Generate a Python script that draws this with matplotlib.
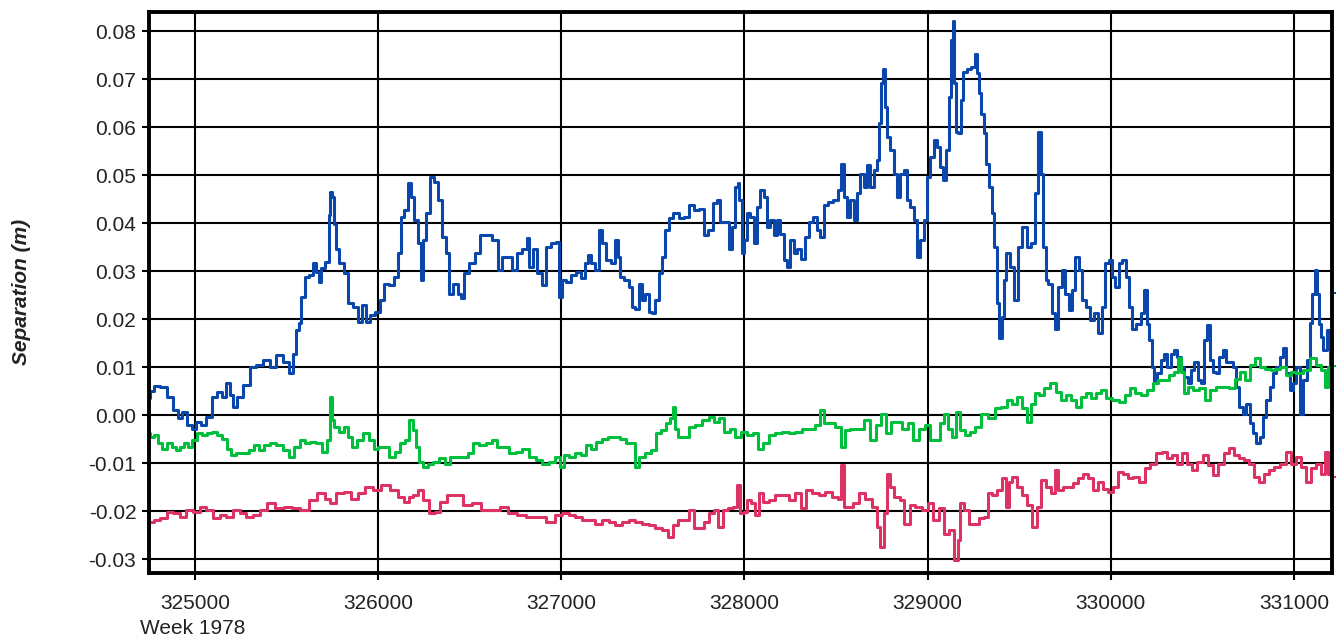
import matplotlib
matplotlib.use("Agg")
import matplotlib.pyplot as plt

plt.rcParams['font.family'] = ['Liberation Sans', 'DejaVu Sans']
plt.rcParams['axes.unicode_minus'] = False

# time (seconds of GPS week 1978) and separation (m) for the three components
blue_x = [324752, 324764, 324791, 324828, 324864, 324900, 324918, 324946, 324973, 324991,
          325018, 325045, 325082, 325109, 325136, 325163, 325182, 325200, 325218, 325245,
          325281, 325318, 325354, 325390, 325427, 325463, 325499, 325526, 325545, 325563,
          325572, 325590, 325608, 325635, 325653, 325672, 325681, 325699, 325726, 325735,
          325744, 325753, 325762, 325780, 325799, 325826, 325844, 325880, 325898, 325926,
          325944, 325971, 325998, 326025, 326044, 326080, 326098, 326116, 326134, 326153,
          326171, 326189, 326207, 326225, 326240, 326252, 326271, 326298, 326316, 326334,
          326361, 326379, 326398, 326425, 326443, 326461, 326479, 326516, 326543, 326570,
          326606, 326643, 326670, 326688, 326715, 326742, 326770, 326806, 326815, 326833,
          326860, 326879, 326906, 326931, 326958, 326985, 326995, 327013, 327040, 327067,
          327095, 327122, 327140, 327149, 327177, 327195, 327213, 327231, 327258, 327286,
          327304, 327313, 327331, 327359, 327377, 327395, 327413, 327431, 327450, 327468,
          327486, 327504, 327522, 327541, 327559, 327577, 327595, 327622, 327659, 327686,
          327713, 327741, 327768, 327786, 327814, 327841, 327859, 327877, 327905, 327923,
          327941, 327959, 327968, 327977, 327992, 328005, 328023, 328041, 328059, 328077,
          328096, 328114, 328132, 328150, 328168, 328187, 328205, 328223, 328241, 328259,
          328278, 328296, 328323, 328341, 328360, 328387, 328405, 328423, 328441, 328469,
          328496, 328523, 328536, 328551, 328569, 328587, 328605, 328623, 328642, 328660,
          328678, 328696, 328714, 328729, 328736, 328751, 328760, 328773, 328784, 328805,
          328824, 328838, 328860, 328878, 328896, 328915, 328933, 328951, 328969, 328987,
          329002, 329024, 329042, 329060, 329073, 329092, 329110, 329125, 329132, 329143,
          329150, 329161, 329174, 329187, 329201, 329229, 329247, 329265, 329275, 329284,
          329302, 329311, 329326, 329348, 329357, 329370, 329384, 329399, 329412, 329421,
          329439, 329458, 329485, 329503, 329531, 329549, 329577, 329595, 329613, 329626,
          329637, 329650, 329668, 329686, 329705, 329723, 329741, 329760, 329778, 329796,
          329814, 329833, 329851, 329879, 329897, 329915, 329943, 329961, 329979, 329997,
          330016, 330034, 330052, 330071, 330089, 330107, 330126, 330153, 330171, 330190,
          330204, 330217, 330230, 330245, 330263, 330281, 330299, 330318, 330336, 330354,
          330373, 330391, 330409, 330428, 330446, 330464, 330482, 330501, 330519, 330534,
          330546, 330565, 330583, 330601, 330620, 330638, 330656, 330675, 330693, 330711,
          330729, 330748, 330766, 330784, 330803, 330821, 330839, 330858, 330876, 330894,
          330912, 330931, 330949, 330967, 330986, 331004, 331022, 331041, 331059, 331077,
          331095, 331105, 331119, 331132, 331141, 331150, 331169, 331187, 331205]
blue_y = [0.0035, 0.0050, 0.0061, 0.0058, 0.0038, 0.0010, -0.0007, 0.0007, -0.0020, -0.0028,
          -0.0014, -0.0020, -0.0003, 0.0038, 0.0049, 0.0038, 0.0066, 0.0042, 0.0017, 0.0038,
          0.0063, 0.0101, 0.0104, 0.0115, 0.0101, 0.0125, 0.0111, 0.0087, 0.0128, 0.0177,
          0.0191, 0.0247, 0.0288, 0.0292, 0.0316, 0.0299, 0.0278, 0.0306, 0.0319, 0.0417,
          0.0465, 0.0455, 0.0399, 0.0347, 0.0316, 0.0295, 0.0233, 0.0226, 0.0194, 0.0229,
          0.0194, 0.0208, 0.0215, 0.0240, 0.0274, 0.0271, 0.0288, 0.0337, 0.0413, 0.0427,
          0.0483, 0.0455, 0.0406, 0.0358, 0.0281, 0.0365, 0.0420, 0.0497, 0.0486, 0.0448,
          0.0372, 0.0337, 0.0253, 0.0274, 0.0253, 0.0243, 0.0295, 0.0316, 0.0337, 0.0375,
          0.0375, 0.0365, 0.0302, 0.0330, 0.0330, 0.0302, 0.0337, 0.0347, 0.0368, 0.0309,
          0.0347, 0.0295, 0.0271, 0.0351, 0.0358, 0.0361, 0.0247, 0.0281, 0.0278, 0.0292,
          0.0299, 0.0285, 0.0316, 0.0333, 0.0316, 0.0302, 0.0385, 0.0358, 0.0323, 0.0316,
          0.0365, 0.0330, 0.0288, 0.0281, 0.0267, 0.0226, 0.0222, 0.0274, 0.0240, 0.0253,
          0.0215, 0.0212, 0.0240, 0.0295, 0.0330, 0.0385, 0.0410, 0.0420, 0.0410, 0.0413,
          0.0437, 0.0427, 0.0430, 0.0375, 0.0385, 0.0441, 0.0448, 0.0403, 0.0403, 0.0347,
          0.0392, 0.0476, 0.0483, 0.0448, 0.0337, 0.0365, 0.0420, 0.0413, 0.0358, 0.0434,
          0.0469, 0.0455, 0.0392, 0.0406, 0.0375, 0.0406, 0.0378, 0.0323, 0.0309, 0.0365,
          0.0337, 0.0347, 0.0326, 0.0372, 0.0403, 0.0413, 0.0385, 0.0372, 0.0437, 0.0444,
          0.0448, 0.0469, 0.0524, 0.0455, 0.0413, 0.0448, 0.0406, 0.0462, 0.0503, 0.0476,
          0.0521, 0.0476, 0.0510, 0.0531, 0.0608, 0.0691, 0.0722, 0.0642, 0.0580, 0.0552,
          0.0503, 0.0455, 0.0503, 0.0510, 0.0448, 0.0434, 0.0406, 0.0330, 0.0365, 0.0406,
          0.0497, 0.0538, 0.0573, 0.0559, 0.0517, 0.0490, 0.0552, 0.0663, 0.0781, 0.0820,
          0.0691, 0.0590, 0.0587, 0.0656, 0.0715, 0.0722, 0.0726, 0.0753, 0.0712, 0.0670,
          0.0628, 0.0587, 0.0524, 0.0476, 0.0420, 0.0351, 0.0233, 0.0160, 0.0205, 0.0281,
          0.0337, 0.0309, 0.0240, 0.0351, 0.0392, 0.0351, 0.0358, 0.0462, 0.0590, 0.0503,
          0.0351, 0.0281, 0.0274, 0.0212, 0.0180, 0.0267, 0.0302, 0.0253, 0.0219, 0.0260,
          0.0330, 0.0302, 0.0240, 0.0226, 0.0198, 0.0212, 0.0170, 0.0226, 0.0316, 0.0323,
          0.0288, 0.0267, 0.0316, 0.0323, 0.0288, 0.0226, 0.0180, 0.0190, 0.0212, 0.0260,
          0.0190, 0.0156, 0.0101, 0.0066, 0.0087, 0.0115, 0.0128, 0.0101, 0.0128, 0.0135,
          0.0122, 0.0101, 0.0080, 0.0066, 0.0094, 0.0111, 0.0073, 0.0066, 0.0156, 0.0188,
          0.0115, 0.0090, 0.0087, 0.0122, 0.0135, 0.0111, 0.0111, 0.0101, 0.0059, 0.0017,
          0.0003, 0.0024, -0.0017, -0.0038, -0.0059, -0.0045, -0.0003, 0.0031, 0.0059, 0.0087,
          0.0101, 0.0122, 0.0139, 0.0087, 0.0052, 0.0066, 0.0101, 0.0003, 0.0073, 0.0115,
          0.0191, 0.0253, 0.0302, 0.0253, 0.0190, 0.0163, 0.0135, 0.0177, 0.0101]

green_x = [324750, 324764, 324791, 324809, 324837, 324864, 324882, 324909, 324927, 324955,
           324973, 325000, 325027, 325054, 325082, 325109, 325136, 325163, 325191, 325209,
           325245, 325281, 325309, 325336, 325363, 325390, 325427, 325463, 325499, 325526,
           325554, 325590, 325617, 325644, 325681, 325708, 325731, 325744, 325753, 325771,
           325799, 325826, 325844, 325871, 325898, 325935, 325962, 325989, 326016, 326044,
           326080, 326107, 326134, 326162, 326180, 326198, 326216, 326234, 326261, 326289,
           326316, 326352, 326379, 326407, 326443, 326479, 326506, 326534, 326570, 326606,
           326634, 326661, 326697, 326733, 326770, 326806, 326842, 326879, 326913, 326949,
           326985, 327004, 327031, 327058, 327095, 327122, 327149, 327177, 327204, 327240,
           327268, 327304, 327340, 327368, 327395, 327413, 327440, 327477, 327504, 327531,
           327559, 327586, 327604, 327613, 327626, 327650, 327686, 327713, 327750, 327786,
           327823, 327850, 327877, 327905, 327932, 327968, 327996, 328032, 328059, 328087,
           328114, 328150, 328187, 328223, 328259, 328296, 328332, 328369, 328405, 328423,
           328441, 328478, 328514, 328536, 328560, 328596, 328633, 328669, 328705, 328733,
           328760, 328787, 328815, 328842, 328878, 328906, 328933, 328969, 328997, 329024,
           329055, 329082, 329101, 329119, 329147, 329165, 329192, 329220, 329247, 329275,
           329311, 329348, 329384, 329421, 329448, 329476, 329503, 329531, 329549, 329577,
           329595, 329622, 329650, 329686, 329714, 329741, 329769, 329796, 329824, 329851,
           329879, 329906, 329933, 329961, 329988, 330025, 330062, 330089, 330116, 330144,
           330180, 330217, 330245, 330272, 330299, 330336, 330358, 330373, 330391, 330409,
           330437, 330464, 330501, 330528, 330556, 330592, 330629, 330665, 330693, 330720,
           330748, 330775, 330803, 330830, 330858, 330885, 330912, 330940, 330967, 330995,
           331031, 331068, 331105, 331132, 331160, 331178, 331196]
green_y = [-0.0038, -0.0045, -0.0042, -0.0059, -0.0070, -0.0059, -0.0066, -0.0073, -0.0066, -0.0059,
           -0.0066, -0.0052, -0.0038, -0.0042, -0.0038, -0.0035, -0.0042, -0.0049, -0.0070, -0.0083,
           -0.0080, -0.0080, -0.0073, -0.0063, -0.0073, -0.0063, -0.0059, -0.0063, -0.0073, -0.0087,
           -0.0066, -0.0052, -0.0059, -0.0056, -0.0059, -0.0076, -0.0052, 0.0038, -0.0010, -0.0024,
           -0.0035, -0.0024, -0.0045, -0.0066, -0.0052, -0.0038, -0.0052, -0.0070, -0.0066, -0.0066,
           -0.0087, -0.0076, -0.0059, -0.0052, -0.0010, -0.0031, -0.0066, -0.0097, -0.0108, -0.0101,
           -0.0097, -0.0090, -0.0101, -0.0087, -0.0087, -0.0087, -0.0080, -0.0059, -0.0063, -0.0059,
           -0.0052, -0.0066, -0.0066, -0.0080, -0.0076, -0.0070, -0.0087, -0.0094, -0.0101, -0.0097,
           -0.0087, -0.0108, -0.0083, -0.0087, -0.0080, -0.0083, -0.0063, -0.0070, -0.0056, -0.0049,
           -0.0045, -0.0045, -0.0049, -0.0059, -0.0059, -0.0108, -0.0087, -0.0080, -0.0073, -0.0038,
           -0.0031, -0.0017, -0.0007, 0.0017, -0.0028, -0.0045, -0.0045, -0.0024, -0.0021, -0.0010,
           -0.0003, -0.0014, -0.0007, -0.0035, -0.0028, -0.0045, -0.0035, -0.0042, -0.0038, -0.0070,
           -0.0059, -0.0042, -0.0038, -0.0035, -0.0038, -0.0035, -0.0028, -0.0028, -0.0021, 0.0010,
           -0.0017, -0.0017, -0.0024, -0.0066, -0.0031, -0.0028, -0.0028, -0.0010, -0.0052, -0.0021,
           0.0003, -0.0038, -0.0014, -0.0014, -0.0028, -0.0017, -0.0052, -0.0028, -0.0021, -0.0052,
           -0.0052, -0.0017, 0.0003, -0.0028, -0.0045, 0.0007, -0.0031, -0.0042, -0.0035, -0.0024,
           0.0003, -0.0007, 0.0014, 0.0017, 0.0031, 0.0024, 0.0038, 0.0014, -0.0014, 0.0024,
           0.0045, 0.0042, 0.0056, 0.0066, 0.0049, 0.0031, 0.0042, 0.0031, 0.0017, 0.0038,
           0.0045, 0.0035, 0.0045, 0.0052, 0.0035, 0.0031, 0.0028, 0.0042, 0.0056, 0.0045,
           0.0042, 0.0052, 0.0066, 0.0073, 0.0073, 0.0083, 0.0090, 0.0118, 0.0090, 0.0045,
           0.0059, 0.0052, 0.0056, 0.0031, 0.0052, 0.0059, 0.0059, 0.0056, 0.0076, 0.0090,
           0.0073, 0.0104, 0.0118, 0.0101, 0.0097, 0.0094, 0.0097, 0.0101, 0.0083, 0.0090,
           0.0087, 0.0094, 0.0118, 0.0104, 0.0094, 0.0059, 0.0101]

red_x = [324750, 324764, 324791, 324828, 324864, 324900, 324936, 324973, 325009, 325045,
         325082, 325118, 325154, 325191, 325227, 325263, 325299, 325336, 325372, 325417,
         325463, 325508, 325554, 325599, 325644, 325690, 325726, 325753, 325790, 325835,
         325871, 325908, 325953, 325989, 326044, 326089, 326125, 326153, 326180, 326207,
         326234, 326261, 326298, 326325, 326352, 326398, 326443, 326488, 326534, 326588,
         326643, 326688, 326733, 326779, 326833, 326897, 326942, 326985, 327022, 327058,
         327095, 327131, 327167, 327204, 327240, 327277, 327313, 327349, 327386, 327422,
         327459, 327495, 327531, 327568, 327595, 327622, 327650, 327686, 327713, 327732,
         327768, 327795, 327823, 327841, 327868, 327895, 327923, 327950, 327968, 327986,
         328005, 328023, 328050, 328068, 328087, 328114, 328150, 328187, 328223, 328259,
         328296, 328323, 328350, 328387, 328423, 328460, 328496, 328523, 328536, 328551,
         328578, 328605, 328642, 328678, 328714, 328733, 328751, 328769, 328787, 328805,
         328833, 328860, 328887, 328915, 328951, 328987, 329015, 329042, 329078, 329101,
         329128, 329156, 329174, 329183, 329211, 329238, 329265, 329293, 329320, 329339,
         329366, 329394, 329421, 329439, 329448, 329476, 329503, 329531, 329558, 329586,
         329604, 329631, 329659, 329686, 329705, 329723, 329750, 329778, 329805, 329833,
         329860, 329888, 329915, 329943, 329970, 329997, 330025, 330052, 330080, 330107,
         330135, 330171, 330199, 330226, 330263, 330290, 330318, 330345, 330373, 330400,
         330428, 330455, 330482, 330519, 330546, 330574, 330601, 330629, 330656, 330684,
         330711, 330739, 330766, 330794, 330821, 330848, 330876, 330903, 330940, 330967,
         330995, 331022, 331050, 331077, 331105, 331132, 331160, 331178, 331196]
red_y = [-0.0222, -0.0222, -0.0219, -0.0215, -0.0201, -0.0205, -0.0212, -0.0198, -0.0201, -0.0191,
         -0.0198, -0.0215, -0.0208, -0.0212, -0.0198, -0.0205, -0.0212, -0.0208, -0.0198, -0.0184,
         -0.0194, -0.0191, -0.0194, -0.0198, -0.0177, -0.0163, -0.0174, -0.0184, -0.0163, -0.0160,
         -0.0174, -0.0163, -0.0149, -0.0156, -0.0146, -0.0156, -0.0170, -0.0181, -0.0170, -0.0167,
         -0.0156, -0.0177, -0.0205, -0.0201, -0.0181, -0.0167, -0.0167, -0.0188, -0.0184, -0.0198,
         -0.0198, -0.0191, -0.0205, -0.0208, -0.0212, -0.0212, -0.0222, -0.0208, -0.0205, -0.0208,
         -0.0212, -0.0219, -0.0219, -0.0226, -0.0219, -0.0222, -0.0229, -0.0222, -0.0219, -0.0222,
         -0.0226, -0.0229, -0.0236, -0.0240, -0.0253, -0.0229, -0.0219, -0.0219, -0.0198, -0.0236,
         -0.0236, -0.0222, -0.0205, -0.0198, -0.0233, -0.0198, -0.0194, -0.0191, -0.0146, -0.0205,
         -0.0201, -0.0177, -0.0184, -0.0208, -0.0163, -0.0181, -0.0177, -0.0167, -0.0167, -0.0177,
         -0.0163, -0.0194, -0.0156, -0.0163, -0.0167, -0.0160, -0.0170, -0.0174, -0.0104, -0.0191,
         -0.0191, -0.0184, -0.0163, -0.0174, -0.0191, -0.0233, -0.0274, -0.0205, -0.0122, -0.0149,
         -0.0170, -0.0177, -0.0226, -0.0188, -0.0191, -0.0198, -0.0184, -0.0219, -0.0194, -0.0247,
         -0.0240, -0.0302, -0.0260, -0.0184, -0.0198, -0.0226, -0.0226, -0.0215, -0.0212, -0.0163,
         -0.0167, -0.0156, -0.0132, -0.0191, -0.0139, -0.0128, -0.0149, -0.0167, -0.0188, -0.0233,
         -0.0191, -0.0135, -0.0149, -0.0163, -0.0115, -0.0156, -0.0149, -0.0149, -0.0142, -0.0132,
         -0.0122, -0.0132, -0.0156, -0.0139, -0.0153, -0.0160, -0.0149, -0.0118, -0.0122, -0.0132,
         -0.0128, -0.0139, -0.0111, -0.0101, -0.0080, -0.0076, -0.0090, -0.0083, -0.0101, -0.0080,
         -0.0101, -0.0115, -0.0097, -0.0083, -0.0104, -0.0125, -0.0101, -0.0080, -0.0069, -0.0083,
         -0.0090, -0.0094, -0.0101, -0.0128, -0.0139, -0.0122, -0.0115, -0.0108, -0.0101, -0.0076,
         -0.0101, -0.0087, -0.0108, -0.0139, -0.0111, -0.0101, -0.0122, -0.0076, -0.0122]

# last samples, just past the right edge of the plot
last_x = 331222
last_blue, last_green, last_red = 0.0254, 0.0102, -0.0129

x_ticks = [325000, 326000, 327000, 328000, 329000, 330000, 331000]
y_ticks = [-0.03, -0.02, -0.01, 0.00, 0.01, 0.02, 0.03, 0.04, 0.05, 0.06, 0.07, 0.08]

c_blue, c_green, c_red = "#0a47ad", "#00bf3c", "#dc3264"

fig = plt.figure(figsize=(13.41, 6.42), dpi=100)
ax = fig.add_axes([0.111, 0.1075, 0.882, 0.874])

ax.plot(blue_x, blue_y, color=c_blue, lw=2.2, drawstyle="steps-mid", zorder=3)
ax.plot(green_x, green_y, color=c_green, lw=2.2, drawstyle="steps-mid", zorder=3)
ax.plot(red_x, red_y, color=c_red, lw=2.2, drawstyle="steps-mid", zorder=3)
for v, c in [(last_blue, c_blue), (last_green, c_green), (last_red, c_red)]:
    ax.plot([last_x], [v], "s", ms=1.6, mew=0, color=c, clip_on=False, zorder=3)

ax.set_xlim(324749, 331205)
ax.set_ylim(-0.0329, 0.0840)
ax.set_xticks(x_ticks)
ax.set_yticks(y_ticks)
ax.set_yticklabels(["%.2f" % v for v in y_ticks])
ax.grid(True, color="black", lw=1.5, zorder=1)
for s in ax.spines.values():
    s.set_linewidth(2.8)
    s.set_zorder(4)
ax.tick_params(axis="both", direction="out", length=5, width=1.5, color="black",
               labelsize=15, labelcolor="#222222")
ax.tick_params(axis="y", pad=4)
ax.tick_params(axis="x", pad=10)

fig.text(22 / 1341, 1 - 292 / 642, "Separation (m)", fontsize=15, fontstyle="italic",
         fontweight="bold", color="#222222", rotation=90, ha="center", va="center")
fig.text(140 / 1341, 1 - 629 / 642, "Week 1978", fontsize=15, color="#222222",
         ha="left", va="center")

fig.savefig("out.png", dpi=100)
